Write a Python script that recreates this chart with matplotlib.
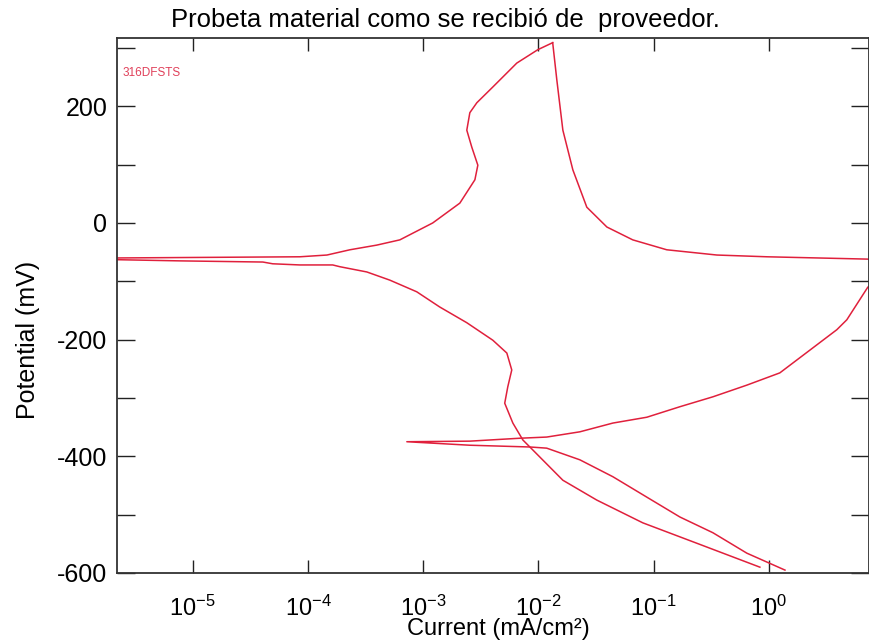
import matplotlib
matplotlib.use("Agg")
import matplotlib.pyplot as plt
from matplotlib.ticker import LogLocator, MultipleLocator, NullLocator

plt.rcParams["font.family"] = ["Liberation Sans", "DejaVu Sans"]
plt.rcParams["mathtext.fontset"] = "custom"
plt.rcParams["mathtext.rm"] = "Liberation Sans"
plt.rcParams["mathtext.default"] = "regular"
plt.rcParams["axes.unicode_minus"] = False

# barrido directo: de -590 mV hasta el pico anódico (mA/cm², mV)
fwd_current = [0.836, 0.237, 0.0805, 0.0321, 0.0163, 0.00893, 0.00733, 0.0060,
               0.0051, 0.00542, 0.00587, 0.00532, 0.00402, 0.00239, 0.00139,
               0.000879, 0.000513, 0.000324, 0.000189, 0.000164, 8.5e-5, 4.94e-5,
               4.06e-5, 7.7e-6, 2.23e-6, 1.0e-6, 2.23e-6, 8.5e-5, 1.46e-4, 2.31e-4,
               3.95e-4, 6.27e-4, 1.21e-3, 2.08e-3, 2.81e-3, 2.98e-3, 2.64e-3,
               2.39e-3, 2.54e-3, 2.92e-3, 4.02e-3, 6.49e-3, 9.89e-3, 0.0133]
fwd_potential = [-590, -549, -514, -475, -441, -389, -372, -343, -309, -281, -252,
                 -223, -201, -171, -144, -118, -98, -84, -75, -72, -72, -70, -67,
                 -65, -63, -62, -60, -58, -55, -46, -38, -29, 0, 34, 74, 99, 130,
                 159, 189, 206, 233, 274, 297, 309]

# barrido inverso: del pico hasta -595 mV
rev_current = [0.0133, 0.01445, 0.0163, 0.0199, 0.0263, 0.0393, 0.0659, 0.130,
               0.354, 0.962, 7.23, 15.8, 7.23, 4.75, 3.89, 2.27, 1.245, 0.644,
               0.327, 0.169, 0.0873, 0.0443, 0.0229, 0.0118, 0.0069, 0.00254,
               0.000721, 0.00254, 0.00841, 0.0118, 0.0229, 0.0443, 0.0873, 0.169,
               0.327, 0.644, 1.38]
rev_potential = [309, 245, 159, 91, 27, -7, -29, -46, -55, -58, -62, -80, -110,
                 -166, -183, -218, -257, -278, -298, -315, -333, -343, -358, -367,
                 -369, -374, -375, -381, -384, -386, -406, -435, -470, -504, -531,
                 -566, -595]

red = "#e0203c"

fig = plt.figure(figsize=(8.7, 6.43), dpi=100)
ax = fig.add_axes([117 / 870, 1 - 573 / 643, 752 / 870, 535 / 643])

ax.plot(fwd_current, fwd_potential, color=red, lw=1.1)
ax.plot(rev_current, rev_potential, color=red, lw=1.1)

ax.set_xscale("log")
ax.set_xlim(2.2e-6, 7.4)
ax.set_ylim(-600, 317)

ax.xaxis.set_major_locator(LogLocator(base=10, numticks=20))
ax.xaxis.set_minor_locator(NullLocator())
ax.yaxis.set_major_locator(MultipleLocator(200))
ax.yaxis.set_minor_locator(MultipleLocator(100))

ax.tick_params(axis="both", which="both", direction="in", top=True, right=True,
               colors="#222222", labelcolor="black")
ax.tick_params(axis="y", which="both", length=13, width=1.0, labelsize=18, pad=7)
ax.tick_params(axis="x", which="major", length=9.5, width=1.0, labelsize=17, pad=16)
for s in ax.spines.values():
    s.set_linewidth(1.3)
    s.set_color("#333333")

ax.set_xlabel("Current (mA/cm²)", fontsize=17, va="center")
ax.xaxis.set_label_coords((498 - 117) / 752, (573 - 629) / 535)
ax.set_ylabel("Potential (mV)", fontsize=18, va="center")
ax.yaxis.set_label_coords((28 - 117) / 752, (573 - 340) / 535)

ax.text(0.007, 0.935, "316DFSTS", transform=ax.transAxes, color="#e0405a",
        fontsize=8.5, va="center", ha="left")

fig.text(445 / 870, 1 - 20 / 643, "Probeta material como se recibió de  proveedor.",
         fontsize=18.5, ha="center", va="center")

fig.savefig("out.png", dpi=100)
